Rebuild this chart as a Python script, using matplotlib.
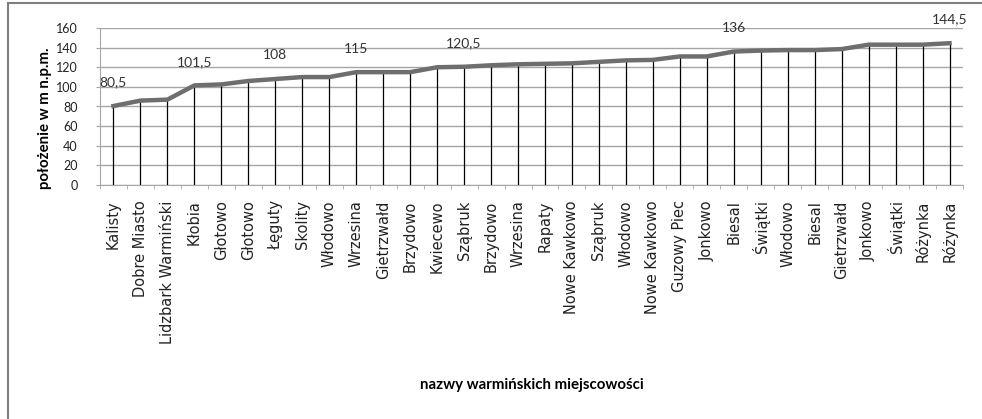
import numpy as np
from matplotlib import pyplot as plt
from matplotlib.patches import Rectangle

plt.rcParams['font.family'] = ['Lato', 'DejaVu Sans']

# Place names and heights above sea level
places = ['Kalisty', 'Dobre Miasto', 'Lidzbark Warmiński', 'Kłobia', 'Głotowo',
          'Głotowo', 'Łęguty', 'Skolity', 'Włodowo', 'Wrzesina', 'Gietrzwałd',
          'Brzydowo', 'Kwiecewo', 'Sząbruk', 'Brzydowo', 'Wrzesina', 'Rapaty',
          'Nowe Kawkowo', 'Sząbruk', 'Włodowo', 'Nowe Kawkowo', 'Guzowy Piec',
          'Jonkowo', 'Biesal', 'Świątki', 'Włodowo', 'Biesal', 'Gietrzwałd',
          'Jonkowo', 'Świątki', 'Różynka', 'Różynka']
heights = [80.5, 86, 87, 101.5, 102.5, 106, 108, 110, 110, 115, 115,
           115, 120, 120.5, 122, 123, 123.5, 124, 125.5, 127, 127.5, 131,
           131, 136, 137, 137.5, 137.5, 138.5, 143, 143, 143, 144.5]
# indices of points that carry a value label
labelled = [0, 3, 6, 9, 13, 23, 31]

x = np.arange(len(places))

fig = plt.figure(figsize=(9.82, 4.19), dpi=100)
ax = fig.add_axes([100 / 982, 1 - 185 / 419, 863 / 982, 157 / 419])

# outer chart frame (only top and left edges visible)
fig.patches.append(Rectangle((8 / 982, -0.1), 1.2, 1 - 3 / 419 + 0.1,
                             transform=fig.transFigure, fill=False,
                             edgecolor='#7f7f7f', linewidth=1.5))

ax.set_xlim(-0.5, len(places) - 0.5)
ax.set_ylim(0, 160)
ax.set_yticks(np.arange(0, 161, 20))
ax.yaxis.grid(True, color='#a6a6a6', linewidth=1)
ax.set_axisbelow(True)

# drop lines
ax.vlines(x, 0, heights, color='black', linewidth=0.9, zorder=2)
ax.plot(x, heights, color='#6e6e6e', linewidth=3.2, zorder=3,
        solid_joinstyle='round')

for i in labelled:
    txt = f'{heights[i]:g}'.replace('.', ',')
    ax.annotate(txt, (x[i], heights[i]), xytext=(0, 17),
                textcoords='offset points', ha='center', va='center',
                fontsize=10, color='#333333')

ax.set_xticks(x)
ax.set_xticklabels(places, rotation=90, fontsize=10.5, color='#222222',
                   family='DejaVu Sans')
ax.set_xticks(np.arange(-0.5, len(places), 1), minor=True)
ax.tick_params(axis='x', which='major', length=0, pad=11)
ax.tick_params(axis='x', which='minor', length=3, color='#a6a6a6')
ax.tick_params(axis='y', length=3, color='#a6a6a6', labelsize=9,
               labelcolor='#222222', pad=13)

for s in ['top', 'right']:
    ax.spines[s].set_visible(False)
for s in ['left', 'bottom']:
    ax.spines[s].set_color('#a6a6a6')

fig.text(45 / 982, 1 - 118 / 419, 'położenie w m n.p.m.', rotation=90,
         ha='center', va='center', fontsize=10.8, fontweight='bold')
fig.text(532 / 982, 1 - 385 / 419, 'nazwy warmińskich miejscowości',
         ha='center', va='center', fontsize=10.8, fontweight='bold')

fig.savefig('out.png', dpi=100)
